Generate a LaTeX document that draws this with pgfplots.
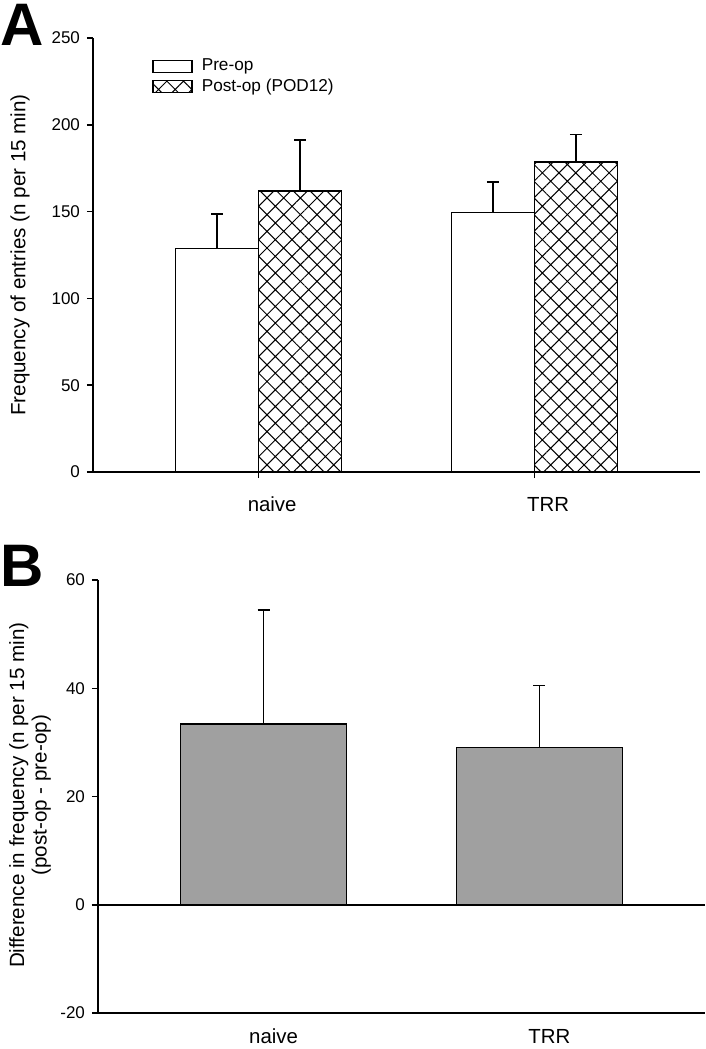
\documentclass[border=0pt]{standalone}
\usepackage{fontspec}
\setmainfont{Liberation Sans}
\usepackage{pgfplots}
\pgfplotsset{compat=1.18}
\usetikzlibrary{patterns.meta}
\definecolor{bargray}{RGB}{160,160,160}
\begin{document}
\begin{tikzpicture}
\useasboundingbox (0,0) rectangle (353pt,-524.5pt);
\pgfplotsset{
  common/.style={
    scale only axis, width=303.5pt,
    xmin=0.4, xmax=2.6,
    axis lines*=left, axis line style={-, line width=0.75pt},
    tick align=outside, major tick length=3pt,
    every tick/.style={black, line width=0.75pt},
    xtick={1,2}, xticklabels={naive,TRR},
    /pgf/number format/assume math mode=true,
    tick label style={font=\fontsize{8.5}{10}\selectfont},
    xticklabel style={font=\fontsize{10.2}{12}\selectfont},
    ylabel style={font=\fontsize{10.3}{11.2}\selectfont, align=center, anchor=center},
    clip=false,
  }
}
\begin{axis}[common,
  at={(46.5pt,-236pt)}, anchor=south west,
  height=217pt, ymin=0, ymax=250, ytick={0,50,...,250},
  ybar, bar width=41.5pt,
  xticklabel style={yshift=-6pt, xshift=6.8pt},
  ylabel={Frequency of entries (n per 15 min)},
  ylabel style={at={(axis description cs:-0.12,0.5)}},
  legend image code/.code={\draw[#1, line width=0.75pt] (0pt,-3pt) rectangle (19.5pt,3pt);},
  legend style={draw=none, fill=none, at={(axis description cs:0.097,0.955)}, anchor=north west,
    font=\fontsize{8.6}{10}\selectfont, row sep=1.5pt, inner sep=0pt,
    nodes={inner xsep=4.5pt, inner ysep=0.5pt}},
  legend cell align=left,
]
\addplot[draw=black, fill=white, line width=0.75pt, bar shift=-20.75pt,
  error bars/.cd, y dir=plus, y explicit,
  error bar style={line width=0.75pt, solid},
  error mark options={rotate=90, mark size=3pt, line width=0.75pt}]
  coordinates {(1,128.8) +- (0,19.8) (2,149.6) +- (0,17.4)};
\addlegendentry{Pre-op}
\addplot[draw=black, line width=0.75pt, bar shift=20.75pt,
  pattern={Hatch[angle=45,distance=5.9pt,line width=0.5pt]},
  error bars/.cd, y dir=plus, y explicit,
  error bar style={line width=0.75pt, solid},
  error mark options={rotate=90, mark size=3pt, line width=0.75pt}]
  coordinates {(1,161.9) +- (0,29.3) (2,178.7) +- (0,15.6)};
\addlegendentry{Post-op (POD12)}
\end{axis}

\begin{axis}[common,
  at={(49pt,-506.5pt)}, anchor=south west,
  height=216.5pt, ymin=-20, ymax=60, ytick={-20,0,20,40,60},
  ybar, bar width=83pt,
  xtick style={draw=none},
  xticklabel style={yshift=-1.5pt, xshift=5pt},
  extra y ticks={0}, extra y tick labels={},
  extra y tick style={grid=major, major grid style={black, line width=0.75pt}},
  ylabel={Difference in frequency (n per 15 min)\\(post-op - pre-op)},
  ylabel style={at={(axis description cs:-0.112,0.503)}},
]
\addplot[draw=black, fill=bargray, line width=0.75pt,
  error bars/.cd, y dir=plus, y explicit,
  error bar style={line width=0.75pt, solid},
  error mark options={rotate=90, mark size=3pt, line width=0.75pt}]
  coordinates {(1,33.4) +- (0,21.1) (2,29.1) +- (0,11.4)};
\end{axis}

\node[font=\bfseries\fontsize{30}{30}\selectfont, anchor=north west, inner sep=0pt] at (0pt,-2pt) {A};
\node[font=\bfseries\fontsize{30}{30}\selectfont, anchor=south west, inner sep=0pt] at (0pt,-293.5pt) {B};
\end{tikzpicture}
\end{document}
